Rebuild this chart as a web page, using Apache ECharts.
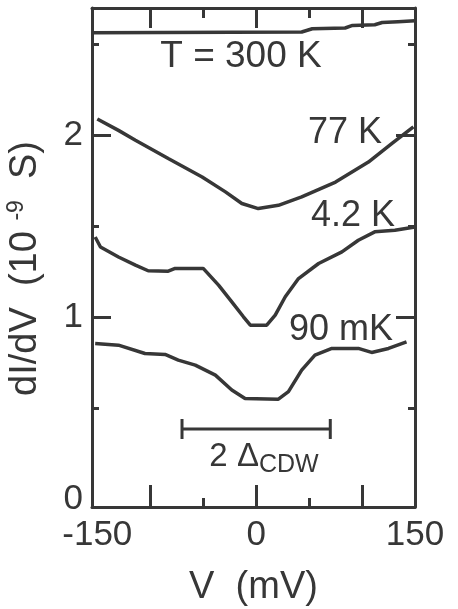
<!DOCTYPE html>
<html>
<head>
<meta charset="utf-8">
<script src="https://cdn.jsdelivr.net/npm/echarts@6/dist/echarts.min.js"></script>
<style>
  html, body { margin: 0; padding: 0; background: #fff; }
  #chart { width: 458px; height: 609px; }
</style>
</head>
<body>
<div id="chart"></div>
<script>
// bias voltage (mV) and dI/dV (1e-9 S)
const v300 = [-154, 43, 53, 84, 91, 112, 119, 134, 150];
const g300 = [2.564, 2.568, 2.586, 2.59, 2.604, 2.608, 2.62, 2.625, 2.63];

const v77 = [-150, -130, -114, -83, -51, -29, -13.5, 2, 21, 43, 75, 106, 128, 148.5];
const g77 = [2.09, 2.027, 1.973, 1.872, 1.771, 1.689, 1.625, 1.597, 1.615, 1.661, 1.743, 1.853, 1.954, 2.046];

const v42 = [-152, -147, -130, -114, -102, -83, -76.5, -50, -35.5, -23, -12, -5.5, 10, 18, 27.5, 40, 59, 81, 96.5, 112, 131, 150];
const g42 = [1.441, 1.386, 1.331, 1.286, 1.255, 1.253, 1.268, 1.268, 1.176, 1.084, 1.002, 0.956, 0.956, 1.011, 1.112, 1.212, 1.295, 1.359, 1.423, 1.469, 1.478, 1.496];

const v90 = [-152, -130, -105, -86, -73.5, -57.5, -38.5, -23, -10.5, 21, 30.5, 43, 55.5, 71.5, 96.5, 109, 125, 142];
const g90 = [0.855, 0.846, 0.8, 0.795, 0.764, 0.736, 0.681, 0.599, 0.553, 0.549, 0.59, 0.709, 0.791, 0.828, 0.828, 0.806, 0.828, 0.864];

// the 2Δ_CDW bar
const gapV = [-70, 70];
const gapG = [0.385, 0.385];

const xLabels = [-150, 0, 150];
const xMajor = [-100, 0, 100];
const xMinor = [-50, 50];
const yLabels = [0, 1, 2];
const yMajor = [1, 2];
const yMinor = [0.5, 1.5, 2.5];

const ink = '#373737';
const font = 'Liberation Sans';
const xMin = -155, xMax = 150, yMin = -0.044, yMax = 2.70;

const pairs = (xs, ys) => xs.map((x, i) => [x, ys[i]]);

const chart = echarts.init(document.getElementById('chart'));

function xAx(pos, ticks, len, main) {
  return {
    type: 'value', position: pos, min: xMin, max: xMax,
    axisLine: { show: main, onZero: false, lineStyle: { color: ink, width: 3 } },
    axisTick: { show: true, inside: true, length: len, customValues: ticks, lineStyle: { color: ink, width: 3 } },
    axisLabel: { show: false },
    splitLine: { show: false }
  };
}
function yAx(pos, ticks, len, main) {
  return {
    type: 'value', position: pos, min: yMin, max: yMax,
    axisLine: { show: main, onZero: false, lineStyle: { color: ink, width: 3 } },
    axisTick: { show: true, inside: true, length: len, customValues: ticks, lineStyle: { color: ink, width: 3 } },
    axisLabel: { show: false },
    splitLine: { show: false }
  };
}

const xBottom = xAx('bottom', xMajor, 22, true);
xBottom.axisLabel = {
  show: true, customValues: xLabels, margin: 11, color: ink,
  fontSize: 35, fontFamily: font
};
xBottom.name = 'V  (mV)';
xBottom.nameLocation = 'middle';
xBottom.nameGap = 62;
xBottom.nameTextStyle = { fontSize: 38, fontFamily: font, color: ink };

const yLeft = yAx('left', yMajor, 19, true);
yLeft.axisLabel = {
  show: true, customValues: yLabels, margin: 9, color: ink,
  fontSize: 35, fontFamily: font
};
yLeft.name = '{a|dI/dV  (10 }{s|-9}{e|  S)}';
yLeft.nameLocation = 'middle';
yLeft.nameGap = 45;
yLeft.nameTextStyle = {
  rich: {
    a: { fontSize: 38, fontFamily: font, color: ink, lineHeight: 42 },
    e: { fontSize: 38, fontFamily: font, color: ink, lineHeight: 42, padding: [0, 22, 0, 0] },
    s: { fontSize: 23, fontFamily: font, color: ink, lineHeight: 42, verticalAlign: 'top' }
  }
};

const curve = (name, xs, ys) => ({
  name, type: 'line', data: pairs(xs, ys), showSymbol: false,
  lineStyle: { color: ink, width: 3.5 }, itemStyle: { color: ink }
});

const txt = (text, x, y, align, size) => ({
  type: 'text', x, y,
  style: { text, fontSize: size, fontFamily: font, fill: ink, align, verticalAlign: 'middle' }
});

chart.setOption({
  animation: false,
  backgroundColor: '#fff',
  grid: { left: 92, right: 43, top: 8, bottom: 102, outerBoundsMode: 'none', containLabel: false },
  xAxis: [xBottom, xAx('bottom', xMinor, 9, false), xAx('top', xMajor, 20, true), xAx('top', xMinor, 10, false)],
  yAxis: [yLeft, yAx('left', yMinor, 7, false), yAx('right', yMajor, 19, true), yAx('right', yMinor, 7, false)],
  series: [
    curve('300 K', v300, g300),
    curve('77 K', v77, g77),
    curve('4.2 K', v42, g42),
    curve('90 mK', v90, g90),
    {
      name: 'gap', type: 'line', data: pairs(gapV, gapG),
      showSymbol: true, symbol: 'rect', symbolSize: [3, 20],
      lineStyle: { color: ink, width: 3 }, itemStyle: { color: ink }
    }
  ],
  graphic: [
    txt('T = 300 K', 241, 57, 'center', 37),
    txt('77 K', 382, 133, 'right', 36),
    txt('4.2 K', 395, 216, 'right', 36),
    txt('90 mK', 393, 330, 'right', 36),
    {
      type: 'text', x: 264, y: 457,
      style: {
        text: '{m|2 Δ}{s|CDW}', align: 'center', verticalAlign: 'middle',
        rich: {
          m: { fontSize: 33, fontFamily: font, fill: ink, lineHeight: 33 },
          s: { fontSize: 25, fontFamily: font, fill: ink, lineHeight: 25, padding: [16, 0, 0, 0] }
        }
      }
    }
  ]
});
</script>
</body>
</html>
